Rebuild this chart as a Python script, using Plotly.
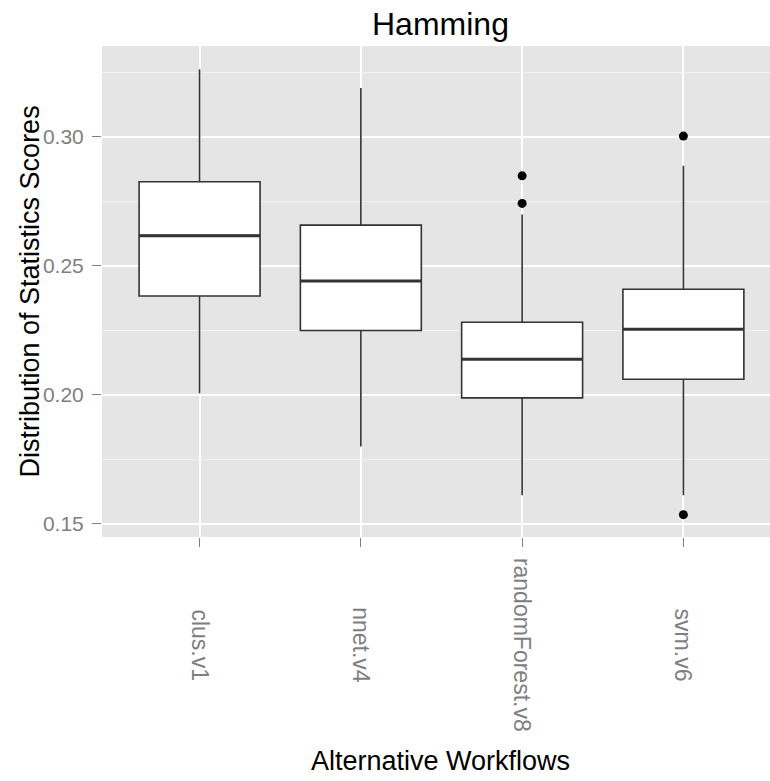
import plotly.graph_objects as go

# Workflow categories and their box-plot summaries
workflows = ["clus.v1", "nnet.v4", "randomForest.v8", "svm.v6"]
lower_whisker = [0.2006, 0.1799, 0.1610, 0.1610]
q1 = [0.2383, 0.2249, 0.1988, 0.2060]
median = [0.2617, 0.2441, 0.2138, 0.2254]
q3 = [0.2826, 0.2658, 0.2281, 0.2409]
upper_whisker = [0.3262, 0.3190, 0.2699, 0.2888]

# Outlying scores (workflow index, value)
outlier_workflow = [2, 2, 3, 3]
outlier_value = [0.2849, 0.2742, 0.3003, 0.1535]

y_ticks = [0.15, 0.20, 0.25, 0.30]
y_tick_text = ["0.15", "0.20", "0.25", "0.30"]
y_minor = [0.175, 0.225, 0.275, 0.325]

FONT = "Liberation Sans, Arial, sans-serif"
BOX_W = 0.75
positions = list(range(len(workflows)))

fig = go.Figure()

fig.add_trace(go.Box(
    x=positions,
    q1=q1, median=median, q3=q3,
    lowerfence=lower_whisker, upperfence=upper_whisker,
    width=BOX_W,
    whiskerwidth=0,
    fillcolor="white",
    line=dict(color="#333333", width=1.6),
    boxpoints=False,
    showlegend=False,
    hoverinfo="skip",
))

# thicker median bars on top of each box
for p, m in zip(positions, median):
    fig.add_trace(go.Scatter(
        x=[p - BOX_W / 2, p + BOX_W / 2], y=[m, m],
        mode="lines", line=dict(color="#333333", width=3),
        showlegend=False, hoverinfo="skip",
    ))

fig.add_trace(go.Scatter(
    x=outlier_workflow, y=outlier_value,
    mode="markers", marker=dict(color="black", size=9),
    showlegend=False, hoverinfo="skip",
))

annotations = []
# category labels, rotated and centred below the axis
for p, name in zip(positions, workflows):
    annotations.append(dict(
        x=p, y=0, xref="x", yref="paper",
        text=name, showarrow=False, textangle=90,
        xanchor="center", yanchor="middle", yshift=-108,
        font=dict(family=FONT, size=23, color="#7F7F7F"),
    ))

annotations += [
    dict(text="Hamming", x=0.506, y=1, xref="paper", yref="paper",
         xanchor="center", yanchor="middle", yshift=22, showarrow=False,
         font=dict(family=FONT, size=32, color="black")),
    dict(text="Alternative Workflows", x=0.506, y=0, xref="paper", yref="paper",
         xanchor="center", yanchor="middle", yshift=-224, showarrow=False,
         font=dict(family=FONT, size=27, color="black")),
    dict(text="Distribution of Statistics Scores", x=0, y=0.5,
         xref="paper", yref="paper", textangle=-90,
         xanchor="center", yanchor="middle", xshift=-73, showarrow=False,
         font=dict(family=FONT, size=27, color="black")),
]

fig.update_layout(
    width=770, height=781,
    margin=dict(l=102, r=0, t=46, b=244),
    paper_bgcolor="white",
    plot_bgcolor="#E5E5E5",
    annotations=annotations,
    xaxis=dict(
        range=[-0.605, 3.537],
        tickvals=positions, ticktext=workflows,
        showticklabels=False,
        showgrid=True, gridcolor="white", gridwidth=1.8,
        zeroline=False, showline=False,
        ticks="outside", ticklen=9, tickcolor="#7F7F7F", tickwidth=1.3,
    ),
    yaxis=dict(
        range=[0.14485, 0.33524],
        tickvals=y_ticks, ticktext=y_tick_text,
        tickfont=dict(family=FONT, size=21, color="#7F7F7F"),
        showgrid=True, gridcolor="white", gridwidth=1.8,
        zeroline=False, showline=False,
        ticks="outside", ticklen=9, tickcolor="#7F7F7F", tickwidth=1.3,
        ticklabelstandoff=4,
        minor=dict(tickvals=y_minor, showgrid=True, gridcolor="#F2F2F2",
                   gridwidth=1, ticks=""),
    ),
)

fig.write_html("out.html")
